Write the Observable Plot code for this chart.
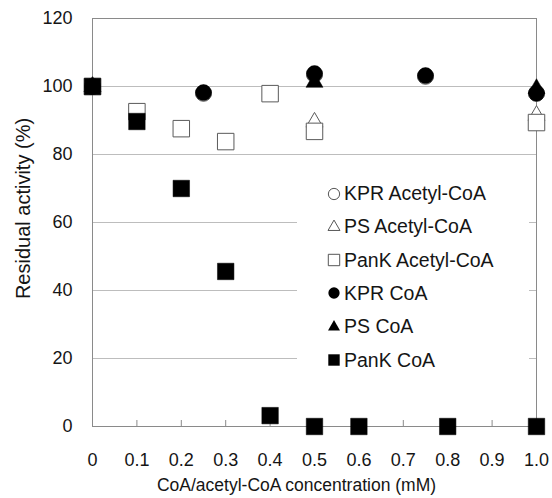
<!DOCTYPE html>
<html><head><meta charset="utf-8">
<script src="https://cdn.jsdelivr.net/npm/d3@7"></script>
<script src="https://cdn.jsdelivr.net/npm/@observablehq/plot@0.6"></script>
<style>
body{margin:0;background:#fff;}
#wrap{position:relative;width:552px;height:498px;font-family:"Liberation Sans",Arial,sans-serif;}
#legend{position:absolute;left:297px;top:172px;width:232px;height:212px;background:#fff;}
.row{position:absolute;left:30px;height:33px;display:flex;align-items:center;font-size:19.5px;color:#151515;white-space:nowrap;}
.row svg{margin-right:3px;}
</style></head><body><div id="wrap"></div>
<script>
// ---- data ----
const xTicks = [0, 0.1, 0.2, 0.3, 0.4, 0.5, 0.6, 0.7, 0.8, 0.9, 1.0];
const xTickLabels = ["0", "0.1", "0.2", "0.3", "0.4", "0.5", "0.6", "0.7", "0.8", "0.9", "1.0"];
const yTicks = [0, 20, 40, 60, 80, 100, 120];
const yGrid = [20, 40, 60, 80, 100];
const seriesNames = ["KPR Acetyl-CoA", "PS Acetyl-CoA", "PanK Acetyl-CoA", "KPR CoA", "PS CoA", "PanK CoA"];

const kprAcX = [0, 0.25, 0.5, 0.75, 1.0];
const kprAcY = [100, 98, 103.5, 103, 98];
const psAcX = [0, 0.5, 1.0];
const psAcY = [100, 89.5, 91.5];
const pankAcX = [0, 0.1, 0.2, 0.3, 0.4, 0.5, 1.0];
const pankAcY = [100, 92.6, 87.6, 83.8, 97.9, 86.8, 89.4];
const kprX = [0, 0.25, 0.5, 0.75, 1.0];
const kprY = [100, 98.2, 103.8, 103.2, 98];
const psX = [0, 0.5, 1.0];
const psY = [100, 101.2, 99.4];
const pankX = [0, 0.1, 0.2, 0.3, 0.4, 0.5, 0.6, 0.8, 1.0];
const pankY = [100, 89.7, 70, 45.6, 3.2, 0, 0, 0, 0];

const xLabel = "CoA/acetyl-CoA concentration (mM)";
const yLabel = "Residual activity (%)";

// ---- build ----
const pts = (xs, ys) => xs.map((x, i) => ({x, y: ys[i]}));
const font = "Liberation Sans, Arial, sans-serif";
const ink = "#151515";
const openStroke = "#5a5a5a";

const style = [
  {sym: "circle", r: 8, filled: false},
  {sym: "triangle", r: 6.3, filled: false},
  {sym: "square", r: 9.3, filled: false},
  {sym: "circle", r: 8, filled: true},
  {sym: "triangle", r: 6.3, filled: true},
  {sym: "square", r: 9.3, filled: true}
];
const dotMark = (data, s) => Plot.dot(data, {
  x: "x", y: "y", symbol: () => s.sym, r: s.r,
  fill: s.filled ? "#000" : "#fff",
  stroke: s.filled ? "#000" : openStroke,
  strokeWidth: s.filled ? 0.5 : 1
});

const chart = Plot.plot({
  width: 552, height: 498,
  marginLeft: 92, marginRight: 16, marginTop: 18, marginBottom: 72,
  style: {fontFamily: font, fontSize: "18px", color: ink, background: "white"},
  x: {domain: [0, 1]},
  y: {domain: [0, 120]},
  symbol: {type: "identity"},
  marks: [
    Plot.gridY(yGrid, {stroke: "#bdbdbd", strokeOpacity: 1}),
    Plot.frame({stroke: "#8a8a8a"}),
    Plot.axisY(yTicks, {tickSize: 0, tickPadding: 20, label: null, fill: ink}),
    Plot.axisX(xTicks, {tickSize: -6, tickPadding: 33, tickFormat: (d, i) => xTickLabels[i], label: null, fill: ink, stroke: "#8a8a8a"}),
    Plot.text([yLabel], {text: d => d, frameAnchor: "left", textAnchor: "middle", lineAnchor: "middle", rotate: -90, dx: -69, dy: -14, fontSize: 20, fill: ink}),
    Plot.text([xLabel], {text: d => d, frameAnchor: "bottom", textAnchor: "middle", lineAnchor: "middle", dy: 59, dx: -18, fontSize: 17.5, fill: ink}),
    dotMark(pts(psAcX, psAcY), style[1]),
    dotMark(pts(pankAcX, pankAcY), style[2]),
    dotMark(pts(kprAcX, kprAcY), style[0]),
    dotMark(pts(psX, psY), style[4]),
    dotMark(pts(kprX, kprY), style[3]),
    dotMark(pts(pankX, pankY), style[5])
  ]
});

const wrap = document.getElementById("wrap");
wrap.appendChild(chart);

// legend overlay
const legend = document.createElement("div");
legend.id = "legend";
const symMap = {circle: d3.symbolCircle, triangle: d3.symbolTriangle, square: d3.symbolSquare};
const legSize = {circle: 100, triangle: 62, square: 130};
seriesNames.forEach((name, i) => {
  const s = style[i];
  const row = document.createElement("div");
  row.className = "row";
  row.style.top = (5 + i * 33.3) + "px";
  const path = d3.symbol(symMap[s.sym], legSize[s.sym])();
  row.innerHTML = `<svg width="14" height="14" viewBox="-7 -7 14 14"><path d="${path}" fill="${s.filled ? "#000" : "#fff"}" stroke="${s.filled ? "none" : "#444"}" stroke-width="0.9"/></svg><span>${name}</span>`;
  legend.appendChild(row);
});
wrap.appendChild(legend);
</script>
</body></html>
